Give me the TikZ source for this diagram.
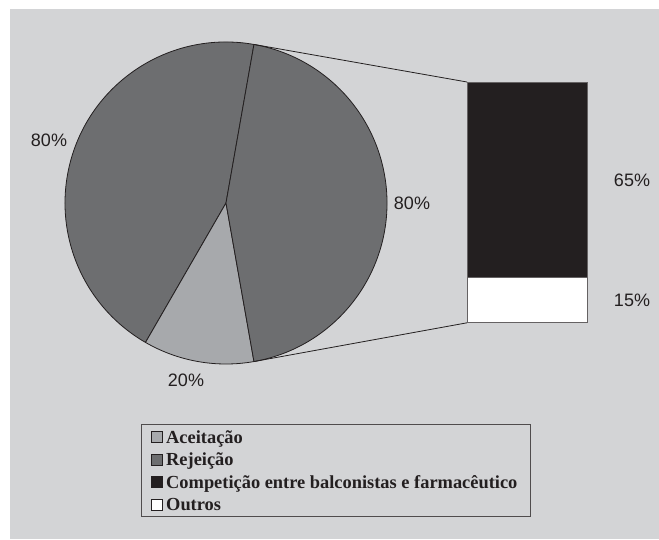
\documentclass[tikz,border=0pt]{standalone}
\usepackage{fontspec}
\usetikzlibrary{calc}
\setmainfont{Liberation Serif}
\newfontfamily\pctfont{Liberation Sans}
\definecolor{bggray}{RGB}{211,212,214}
\definecolor{darkslice}{RGB}{109,110,112}
\definecolor{lightslice}{RGB}{167,169,172}
\definecolor{blackbar}{RGB}{35,31,32}
\definecolor{outline}{RGB}{35,31,32}
\tikzset{
  slice/.style={draw=outline, line width=0.8pt, line join=round},
  pct/.style={font=\pctfont\fontsize{18}{20}\selectfont, text=blackbar, inner sep=0pt},
  barbox/.style={draw=outline!70, line width=0.8pt, minimum width=120pt, inner sep=0pt, anchor=north west},
  legbox/.style={draw=outline!80, line width=0.9pt, minimum width=389pt, minimum height=92pt, inner sep=0pt},
  legsq/.style={draw=outline, line width=0.8pt, minimum width=11pt, minimum height=11pt, inner sep=0pt},
  legtext/.style={font=\bfseries\fontsize{18.4}{22}\selectfont, text=blackbar, inner sep=0pt, anchor=base west},
  zoomline/.style={draw=outline, line width=0.8pt}
}
\begin{document}
\begin{tikzpicture}[x=1pt,y=1pt]
\useasboundingbox (0,0) rectangle (659,539);
\fill[bggray] (10,0) rectangle (659,530);
% pie
\coordinate (C) at (226,336);
\def\R{161}
\filldraw[slice, fill=darkslice] (C) -- ++(80:\R) arc (80:240:\R) -- cycle;
\filldraw[slice, fill=lightslice] (C) -- ++(240:\R) arc (240:280:\R) -- cycle;
\filldraw[slice, fill=darkslice] (C) -- ++(280:\R) arc (280:440:\R) -- cycle;
\coordinate (ptop) at ($(C)+(80:\R)$);
\coordinate (pbot) at ($(C)+(280:\R)$);
% bar
\node[barbox, fill=blackbar, minimum height=195pt] (comp) at (467,457) {};
\node[barbox, fill=white, minimum height=45pt] (outros) at (467,262) {};
\draw[zoomline] (ptop) -- (comp.north west);
\draw[zoomline] (pbot) -- (outros.south west);
% labels
\node[pct] (l1) at (49,399) {80\%};
\node[pct] (l2) at (412,336) {80\%};
\node[pct] (l3) at (186,159) {20\%};
\node[pct] (l4) at (632,359) {65\%};
\node[pct] (l5) at (632,239) {15\%};
% legend
\node[legbox] (leg) at (335.5,69) {};
\node[legsq, fill=lightslice] (s1) at (157,102) {};
\node[legsq, fill=darkslice] (s2) at (157,79.5) {};
\node[legsq, fill=blackbar] (s3) at (157,57) {};
\node[legsq, fill=white] (s4) at (157,34.5) {};
\node[legtext] (t1) at (166,96) {Aceitação};
\node[legtext] (t2) at (166,73.5) {Rejeição};
\node[legtext] (t3) at (166,51) {Competição entre balconistas e farmacêutico};
\node[legtext] (t4) at (166,28.5) {Outros};
\end{tikzpicture}
\end{document}
